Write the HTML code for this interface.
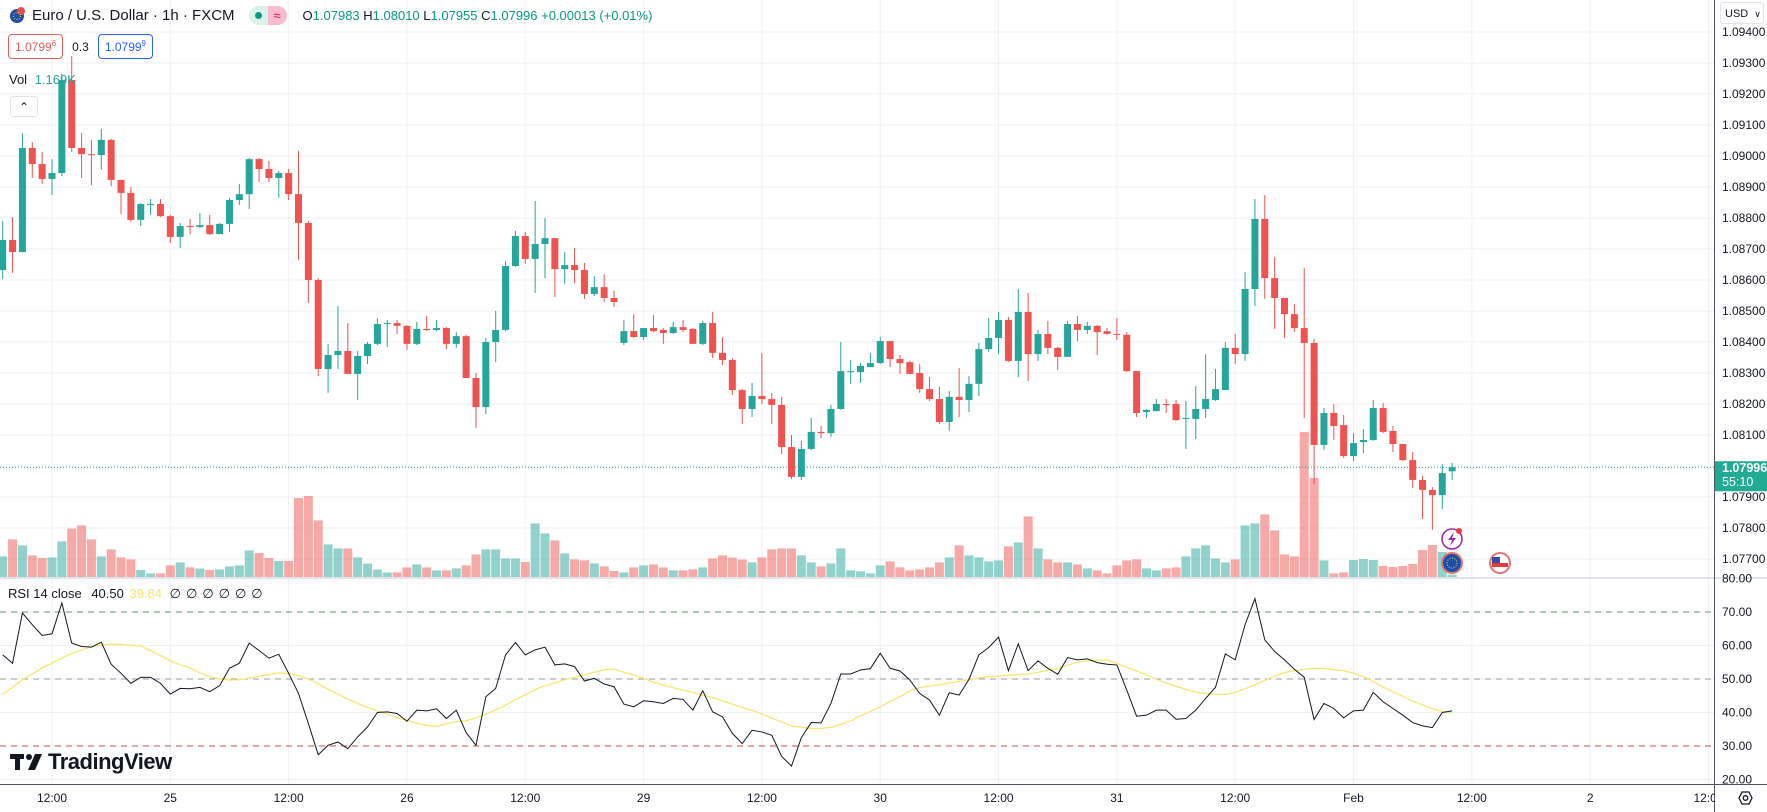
<!DOCTYPE html>
<html><head><meta charset="utf-8"><title>EURUSD 1h</title>
<style>
html,body{margin:0;padding:0;background:#fff;}
body{width:1767px;height:812px;overflow:hidden;position:relative;font-family:"Liberation Sans",sans-serif;color:#131722;}
#chart{position:absolute;left:0;top:0;}
.hdr{position:absolute;white-space:nowrap;font-size:14px;}
</style></head>
<body>
<svg id="chart" width="1767" height="812" viewBox="0 0 1767 812" xmlns="http://www.w3.org/2000/svg"></svg>

<div class="hdr" style="left:8px;top:5px;height:20px;display:flex;align-items:center;">
  <svg width="18" height="18"><circle cx="9" cy="10" r="7" fill="#1e4fa8"/><circle cx="13" cy="5" r="4" fill="#e94c4c"/><circle cx="9" cy="10" r="3.5" fill="none" stroke="#f5d742" stroke-width="1" stroke-dasharray="1,1.5"/></svg>
  <span style="margin-left:6px;font-size:15px;color:#131722;">Euro / U.S. Dollar · 1h · FXCM</span>
  <span style="margin-left:14px;display:inline-flex;height:19px;border-radius:10px;overflow:hidden;"><span style="width:19px;background:#d9f2ec;display:flex;align-items:center;justify-content:center;"><span style="width:7px;height:7px;border-radius:50%;background:#089981;display:block;"></span></span><span style="width:19px;background:#f8bbd0;color:#c2185b;font-size:13px;text-align:center;line-height:19px;">≈</span></span>
  <span style="margin-left:16px;font-size:13px;color:#089981;"><span style="color:#131722">O</span>1.07983 <span style="color:#131722">H</span>1.08010 <span style="color:#131722">L</span>1.07955 <span style="color:#131722">C</span>1.07996 +0.00013 (+0.01%)</span>
</div>
<div class="hdr" style="left:8px;top:34px;display:flex;align-items:center;font-size:12px;">
  <span style="border:1px solid #e35d5d;color:#e35d5d;border-radius:4px;padding:4px 6px;">1.0799<sup style="font-size:8px">6</sup></span>
  <span style="margin:0 9px;color:#131722;">0.3</span>
  <span style="border:1px solid #2962ff;color:#2962ff;border-radius:4px;padding:4px 6px;">1.0799<sup style="font-size:8px">9</sup></span>
</div>
<div class="hdr" style="left:9px;top:72px;font-size:13px;color:#131722;">Vol <span style="color:#26a69a;margin-left:4px;">1.169K</span></div>
<div class="hdr" style="left:10px;top:96px;width:26px;height:19px;border:1px solid #e0e3eb;border-radius:3px;text-align:center;font-size:12px;line-height:20px;">⌃</div>

<div class="hdr" style="left:8px;top:586px;font-size:13px;color:#131722;">RSI 14 close <span style="margin-left:6px;color:#131722;">40.50</span> <span style="color:#f5e56b;margin-left:2px;">39.84</span> <span style="margin-left:4px;letter-spacing:5px;">∅∅∅∅∅∅</span></div>

<div class="hdr" style="left:1720px;top:2px;width:44px;height:22px;border:1px solid #e0e3eb;border-radius:3px;background:#fff;font-size:11px;line-height:22px;padding-left:4px;box-sizing:border-box;">USD <span style="font-size:9px;margin-left:3px;">∨</span></div>

<div class="hdr" style="left:10px;top:749px;display:flex;align-items:center;">
  <svg width="36" height="20"><rect x="0" y="2" width="14" height="5" fill="#131722"/><rect x="5" y="2" width="5" height="16" fill="#131722"/><circle cx="19" cy="5" r="3" fill="#131722"/><polygon points="25,2 32,2 25,18 18,18" fill="#131722"/></svg>
  <span style="font-size:22px;font-weight:bold;letter-spacing:-0.5px;color:#131722;margin-left:2px;">TradingView</span>
</div>

<script>
// ---- data ----
const open = [1.08632,1.08729,1.08690,1.09026,1.08974,1.08926,1.08945,1.09245,1.09026,1.09006,
1.09003,1.09052,1.08923,1.08881,1.08794,1.08842,1.08845,1.08806,1.08739,1.08774,
1.08771,1.08777,1.08748,1.08781,1.08858,1.08877,1.08990,1.08958,1.08929,1.08945,
1.08877,1.08784,1.08600,1.08313,1.08358,1.08371,1.08297,1.08355,1.08394,1.08458,
1.08461,1.08452,1.08394,1.08442,1.08439,1.08445,1.08394,1.08419,1.08284,1.08190,
1.08400,1.08439,1.08645,1.08742,1.08668,1.08716,1.08735,1.08635,1.08648,1.08632,
1.08555,1.08577,1.08542,1.08397,1.08435,1.08416,1.08445,1.08439,1.08429,1.08448,
1.08442,1.08394,1.08461,1.08365,1.08342,1.08245,1.08184,1.08226,1.08216,1.08197,
1.08061,1.07965,1.08055,1.08110,1.08106,1.08184,1.08303,1.08303,1.08319,1.08332,
1.08403,1.08345,1.08335,1.08300,1.08248,1.08216,1.08142,1.08223,1.08213,1.08265,
1.08377,1.08413,1.08471,1.08339,1.08497,1.08361,1.08426,1.08381,1.08352,1.08458,
1.08439,1.08452,1.08435,1.08426,1.08423,1.08306,1.08174,1.08177,1.08200,1.08200,
1.08152,1.08152,1.08184,1.08213,1.08245,1.08381,1.08361,1.08571,1.08797,1.08606,
1.08542,1.08490,1.08445,1.08397,1.08068,1.08171,1.08132,1.08032,1.08077,1.08084,
1.08187,1.08113,1.08071,1.08019,1.07955,1.07923,1.07906,1.07983];
const high = [1.08790,1.08803,1.09074,1.09045,1.09013,1.08990,1.09265,1.09323,1.09074,1.09052,
1.09087,1.09055,1.08923,1.08900,1.08848,1.08861,1.08861,1.08810,1.08784,1.08797,
1.08816,1.08810,1.08784,1.08865,1.08910,1.08994,1.08994,1.08984,1.08952,1.08958,
1.09016,1.08790,1.08606,1.08394,1.08516,1.08461,1.08371,1.08400,1.08477,1.08471,
1.08471,1.08455,1.08465,1.08484,1.08471,1.08448,1.08432,1.08423,1.08300,1.08413,
1.08500,1.08661,1.08758,1.08755,1.08855,1.08800,1.08735,1.08690,1.08703,1.08655,
1.08613,1.08619,1.08565,1.08471,1.08490,1.08445,1.08487,1.08445,1.08465,1.08471,
1.08445,1.08468,1.08497,1.08416,1.08348,1.08248,1.08268,1.08365,1.08236,1.08223,
1.08100,1.08081,1.08155,1.08129,1.08197,1.08400,1.08342,1.08332,1.08365,1.08416,
1.08403,1.08358,1.08339,1.08329,1.08287,1.08255,1.08242,1.08316,1.08290,1.08397,
1.08477,1.08497,1.08481,1.08571,1.08558,1.08439,1.08468,1.08384,1.08468,1.08484,
1.08465,1.08455,1.08445,1.08477,1.08432,1.08306,1.08184,1.08216,1.08216,1.08213,
1.08210,1.08258,1.08361,1.08313,1.08400,1.08426,1.08626,1.08861,1.08874,1.08674,
1.08542,1.08523,1.08639,1.08410,1.08187,1.08200,1.08165,1.08106,1.08119,1.08213,
1.08203,1.08129,1.08071,1.08045,1.07968,1.07932,1.08006,1.08010];
const low = [1.08603,1.08623,1.08690,1.08929,1.08910,1.08874,1.08935,1.09013,1.08929,1.08906,
1.08955,1.08903,1.08813,1.08787,1.08774,1.08810,1.08803,1.08719,1.08703,1.08748,
1.08768,1.08745,1.08748,1.08755,1.08842,1.08829,1.08916,1.08916,1.08865,1.08858,
1.08665,1.08526,1.08290,1.08236,1.08313,1.08297,1.08213,1.08329,1.08390,1.08384,
1.08426,1.08374,1.08390,1.08435,1.08435,1.08377,1.08381,1.08284,1.08123,1.08168,
1.08335,1.08435,1.08642,1.08652,1.08558,1.08606,1.08545,1.08587,1.08590,1.08539,
1.08548,1.08529,1.08513,1.08390,1.08413,1.08406,1.08432,1.08394,1.08426,1.08432,
1.08394,1.08390,1.08348,1.08326,1.08229,1.08135,1.08158,1.08200,1.08135,1.08039,
1.07958,1.07955,1.08052,1.08090,1.08094,1.08181,1.08265,1.08268,1.08319,1.08329,
1.08319,1.08297,1.08297,1.08236,1.08210,1.08135,1.08113,1.08158,1.08174,1.08226,
1.08368,1.08361,1.08335,1.08287,1.08274,1.08339,1.08361,1.08310,1.08352,1.08403,
1.08426,1.08358,1.08423,1.08406,1.08303,1.08158,1.08155,1.08177,1.08171,1.08145,
1.08055,1.08087,1.08155,1.08210,1.08245,1.08329,1.08339,1.08516,1.08539,1.08442,
1.08413,1.08432,1.08155,1.07942,1.08052,1.08084,1.08026,1.08016,1.08042,1.08081,
1.08106,1.08045,1.08016,1.07929,1.07829,1.07794,1.07861,1.07955];
const close = [1.08729,1.08690,1.09026,1.08974,1.08926,1.08945,1.09245,1.09026,1.09006,1.09003,
1.09052,1.08923,1.08881,1.08794,1.08845,1.08845,1.08806,1.08739,1.08774,1.08771,
1.08777,1.08748,1.08781,1.08858,1.08877,1.08990,1.08958,1.08929,1.08945,1.08877,
1.08784,1.08600,1.08313,1.08358,1.08371,1.08297,1.08355,1.08394,1.08458,1.08461,
1.08452,1.08394,1.08442,1.08439,1.08445,1.08394,1.08419,1.08284,1.08190,1.08400,
1.08439,1.08645,1.08742,1.08668,1.08716,1.08735,1.08635,1.08648,1.08632,1.08555,
1.08577,1.08542,1.08529,1.08435,1.08416,1.08445,1.08435,1.08429,1.08448,1.08439,
1.08394,1.08461,1.08365,1.08342,1.08245,1.08184,1.08226,1.08216,1.08197,1.08061,
1.07965,1.08055,1.08110,1.08106,1.08184,1.08306,1.08306,1.08323,1.08332,1.08403,
1.08345,1.08332,1.08297,1.08248,1.08216,1.08142,1.08223,1.08213,1.08265,1.08377,
1.08413,1.08471,1.08339,1.08497,1.08361,1.08426,1.08381,1.08352,1.08458,1.08439,
1.08452,1.08432,1.08426,1.08423,1.08306,1.08171,1.08181,1.08200,1.08197,1.08148,
1.08155,1.08184,1.08216,1.08248,1.08381,1.08361,1.08571,1.08797,1.08606,1.08542,
1.08490,1.08445,1.08397,1.08068,1.08171,1.08129,1.08032,1.08074,1.08084,1.08187,
1.08110,1.08071,1.08019,1.07955,1.07923,1.07906,1.07977,1.07996];
const volume = [10.3,18.8,15.8,10.8,9.5,9.8,17.8,24.2,25.8,18.8,
10.3,13.8,9.8,8.8,3.5,1.8,1.8,5.8,7.3,4.8,
4.2,3.5,3.8,5.3,5.8,13.3,12.0,9.5,8.0,8.0,
39.5,40.5,28.3,16.3,14.3,14.3,9.8,6.7,3.7,2.3,
2.3,4.8,6.3,4.8,3.3,3.3,4.3,5.8,11.3,13.8,
13.8,9.3,9.3,7.5,26.8,21.8,18.3,11.8,8.8,8.3,
6.8,5.3,3.0,2.3,4.8,5.8,6.3,4.8,3.3,3.3,
3.8,4.8,9.3,10.8,9.7,8.7,7.3,9.8,13.8,14.3,
14.3,10.8,7.3,5.3,6.8,14.3,3.3,2.8,1.8,5.8,
7.8,4.8,3.3,3.8,4.8,7.3,9.8,15.8,10.8,9.8,
7.8,8.3,15.3,17.3,30.3,14.3,8.8,7.3,7.3,6.3,
4.3,3.3,1.8,5.8,8.3,8.8,4.3,3.3,4.3,4.8,
10.3,14.3,15.8,9.3,7.3,8.8,25.8,26.8,31.3,23.3,
11.3,10.3,72.5,49.5,8.3,1.8,2.3,8.5,9.0,8.5,
5.5,5.0,5.5,6.5,13.5,16.0,12.5,1.169];
const rsi = [57.2,54.7,69.7,66.2,63,63.5,72.7,60.7,59.7,59.5,
61,54.4,51.7,48.7,50.5,50.5,48.7,45.5,47.2,47.1,
47.5,46.2,48,53.2,54.7,60.7,58.5,56.2,57.4,51.7,
45.7,36.7,27.4,30.2,31.2,29.2,32.7,35.7,40,40.2,
39.7,37.4,40.7,40.5,41.1,38.2,40.7,34,30.2,44.7,
47.2,57.2,60.9,57.2,58.7,59.5,54.2,54.5,53.7,49.4,
50.2,48.5,47.7,42.5,41.7,43.5,43.2,42.7,44.2,43.9,
40.7,46.5,40.2,38.7,33.8,30.7,34.7,34.2,33.2,26.9,
24,32.5,37,36.9,42.7,51.5,51.5,52.7,53.1,57.7,
53.2,52.4,49.7,45.7,43.7,39.2,45.9,45.2,49.9,57.2,
59.4,62.5,52.5,60.5,52.5,55.4,53.2,51.4,56.4,55.7,
56,54.9,54.4,54.2,46.7,38.9,39.2,40.7,40.7,38,
38.2,40.7,44.2,47.5,57.5,55.7,66.2,74,61.7,58.2,
55.7,52.9,50.5,37.9,42.7,41.2,38.4,40.5,40.7,46,
43.2,41.2,39.2,37,36,35.5,40,40.5];
const rsiMa = [45.5,47.5,49.8,51.5,53.3,54.8,56.3,57.6,58.6,59.6,
60.1,60.4,60.3,60.1,59.9,58.5,57,55.5,54.2,53.3,
51.8,50.7,50,49.7,49.8,50.3,50.8,51.3,51.8,51.6,
51,50,48.6,47,45.5,44,42.7,41.5,40.5,39.6,
38.4,37.6,36.8,36.2,35.9,36.6,37.3,37.5,38.4,39.5,
40.8,42.2,43.8,45.3,46.8,48,48.8,49.8,50.5,51.2,
52,52.8,53,52,51.2,50.2,49,48.2,47.4,46.7,
46,45.2,44.5,43.5,42.5,41.5,40.6,39.6,38.3,37.2,
36,35.6,35.3,35.2,35.6,36.4,37.5,39,40.3,41.7,
43.3,44.8,46.4,47.4,47.9,48.3,48.8,49.3,49.8,50.3,
50.7,50.9,51.1,51.3,51.5,52,52.6,53.2,54.1,55,
55.4,55.6,55.7,54.7,53.5,52.4,51.2,50,48.8,47.8,
46.9,46.1,45.7,45.4,45.4,46,47.1,48.2,49.6,50.8,
51.9,52.5,52.9,53.2,53.1,52.8,52.5,51.7,50.7,49.2,
47.6,46.2,44.8,43.4,42.3,41.1,40.3,39.84];
const priceTicks = [1.094,1.093,1.092,1.091,1.090,1.089,1.088,1.087,1.086,1.085,1.084,1.083,1.082,1.081,1.080,1.079,1.078,1.077];
const rsiTicks = [80,70,60,50,40,30,20];
const timeTickBars = [5,17,29,41,53,65,77,89,101,113,125,137,149,161,173];
const timeTickLabels = ["12:00","25","12:00","26","12:00","29","12:00","30","12:00","31","12:00","Feb","12:00","2","12:00"];
const lastPrice = 1.07996;

// ---- layout ----
const PLOT_R = 1714, MAIN_B = 577, RSI_T = 579, RSI_B = 784;
const X0 = 2.7, STEP = 9.86;
const NS = "http://www.w3.org/2000/svg";
const svg = document.getElementById('chart');
const xOf = i => X0 + i * STEP;
const yPrice = p => 404 - (p - 1.082) * 31000;
const yVol = v => MAIN_B - v * 2;
const yRsi = v => 612 + (70 - v) * 3.35;
function mk(tag, attrs, parent) {
  const e = document.createElementNS(NS, tag);
  for (const k in attrs) e.setAttribute(k, attrs[k]);
  (parent || svg).appendChild(e);
  return e;
}
const GREEN = '#26a69a', RED = '#ef5350';

// grid
const grid = mk('g', {});


priceTicks.forEach(p => { mk('line', {x1:0, x2:PLOT_R, y1:yPrice(p), y2:yPrice(p), stroke:'#eef0f4', 'stroke-width':1}, grid); });
rsiTicks.forEach(v => { mk('line', {x1:0, x2:PLOT_R, y1:yRsi(v), y2:yRsi(v), stroke:'#eef0f4', 'stroke-width':1}, grid); });
timeTickBars.forEach(b => { mk('line', {x1:xOf(b), x2:xOf(b), y1:0, y2:RSI_B, stroke:'#eef0f4', 'stroke-width':1}, grid); });

// volume
const vg = mk('g', {});


volume.forEach((v, i) => {
  const up = close[i] >= open[i];
  const r = mk('rect', {x:xOf(i) - 4.5, y:yVol(v), width:9, height:MAIN_B - yVol(v), fill: up ? 'rgba(38,166,154,0.5)' : 'rgba(239,83,80,0.5)'}, vg);
  
  
});

// current price dotted line
const pl = mk('line', {x1:0, x2:PLOT_R, y1:yPrice(lastPrice), y2:yPrice(lastPrice), stroke:'#26a69a', 'stroke-width':1, 'stroke-dasharray':'1,2'});



// candles
const cg = mk('g', {});


open.forEach((o, i) => {
  const c = close[i], up = c >= o, col = up ? GREEN : RED;
  const g = mk('g', {}, cg);
  
  
  const x = xOf(i);
  mk('line', {x1:x, x2:x, y1:yPrice(high[i]), y2:yPrice(low[i]), stroke:col, 'stroke-width':1}, g);
  const yt = yPrice(Math.max(o, c)), yb = yPrice(Math.min(o, c));
  mk('rect', {x:x - 3.5, y:yt, width:7, height:Math.max(1, yb - yt), fill:col}, g);
});

// pane separator
const sep = mk('rect', {x:0, y:MAIN_B, width:PLOT_R, height:2, fill:'#e0e3eb'});



// RSI levels
[[70,'#5b9a72'],[50,'#9598a1'],[30,'#c0504d']].forEach(([v, col]) => {
  const l = mk('line', {x1:0, x2:PLOT_R, y1:yRsi(v), y2:yRsi(v), stroke:col, 'stroke-width':1, 'stroke-dasharray':'6,5'});
  
  
});
// RSI MA and line
const maPath = mk('polyline', {points: rsiMa.map((v, i) => xOf(i) + ',' + yRsi(v)).join(' '), fill:'none', stroke:'#f5e56b', 'stroke-width':1.2});


const rsiPath = mk('polyline', {points: rsi.map((v, i) => xOf(i) + ',' + yRsi(v)).join(' '), fill:'none', stroke:'#131722', 'stroke-width':1});



// event icons
const ev = mk('g', {});


mk('circle', {cx:1452, cy:539, r:10, fill:'#fff', stroke:'#9c27b0', 'stroke-width':1.5}, ev);
mk('path', {d:'M1454 532 L1448 540 L1452 540 L1450 546 L1456 538 L1452 538 Z', fill:'#9c27b0'}, ev);
mk('circle', {cx:1459, cy:531, r:3, fill:'#f23645'}, ev);
mk('circle', {cx:1452, cy:563, r:10, fill:'#1e4fa8', stroke:'#e57373', 'stroke-width':2}, ev);
mk('circle', {cx:1452, cy:563, r:5, fill:'none', stroke:'#f5d742', 'stroke-width':1, 'stroke-dasharray':'1,1.6'}, ev);
mk('circle', {cx:1500, cy:563, r:10, fill:'#fff', stroke:'#e57373', 'stroke-width':2}, ev);
mk('rect', {x:1492, y:563, width:16, height:4, fill:'#e53935'}, ev);
mk('rect', {x:1492, y:557, width:8, height:6, fill:'#3949ab'}, ev);

// axes
const axis = mk('g', {});


mk('rect', {x:PLOT_R, y:0, width:1767 - PLOT_R, height:812, fill:'#fff'}, axis);
mk('rect', {x:0, y:RSI_B, width:1767, height:812 - RSI_B, fill:'#fff'}, axis);
mk('line', {x1:PLOT_R + 0.5, x2:PLOT_R + 0.5, y1:0, y2:812, stroke:'#50535e', 'stroke-width':1}, axis);
mk('line', {x1:0, x2:1767, y1:RSI_B + 0.5, y2:RSI_B + 0.5, stroke:'#50535e', 'stroke-width':1}, axis);
mk('rect', {x:PLOT_R + 1, y:MAIN_B, width:1767 - PLOT_R, height:2, fill:'#e0e3eb'}, axis);
priceTicks.forEach(p => {
  const t = mk('text', {x:1722, y:yPrice(p) + 4, 'font-size':12, fill:'#131722', 'font-family':'Liberation Sans, sans-serif'}, axis);
  t.textContent = p.toFixed(5);
  
  
});
rsiTicks.forEach(v => {
  const t = mk('text', {x:1722, y:yRsi(v) + 4, 'font-size':12, fill:'#131722', 'font-family':'Liberation Sans, sans-serif'}, axis);
  t.textContent = v.toFixed(2);
  
  
});
timeTickBars.forEach((b, k) => {
  const t = mk('text', {x:xOf(b), y:802, 'font-size':12, fill:'#131722', 'text-anchor':'middle', 'font-family':'Liberation Sans, sans-serif'}, axis);
  t.textContent = timeTickLabels[k];
  
  
});
mk('rect', {x:PLOT_R + 1, y:RSI_B + 1, width:1767 - PLOT_R, height:812 - RSI_B, fill:'#fff'}, axis);
// settings icon
const gear = mk('g', {});


mk('polygon', {points:'1739,798 1742,792 1749,792 1752,798 1749,804 1742,804', fill:'none', stroke:'#131722', 'stroke-width':1.3}, gear);
mk('circle', {cx:1745.5, cy:798, r:2.3, fill:'none', stroke:'#131722', 'stroke-width':1.3}, gear);

// last price label
const lp = mk('g', {});


const ly = yPrice(lastPrice);
mk('rect', {x:PLOT_R + 1, y:ly - 6, width:1767 - PLOT_R, height:30, fill:'#22ab94'}, lp);
const lt1 = mk('text', {x:1722, y:ly + 5, 'font-size':12.5, 'font-weight':'bold', fill:'#fff', 'font-family':'Liberation Sans, sans-serif'}, lp);
lt1.textContent = lastPrice.toFixed(5);
const lt2 = mk('text', {x:1722, y:ly + 19, 'font-size':12.5, fill:'#fff', 'font-family':'Liberation Sans, sans-serif'}, lp);
lt2.textContent = '55:10';
</script>
</body></html>
